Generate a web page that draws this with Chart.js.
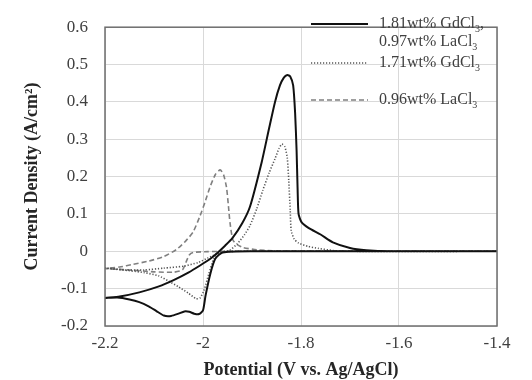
<!DOCTYPE html>
<html>
<head>
<meta charset="utf-8">
<script src="https://cdn.jsdelivr.net/npm/chart.js@4/dist/chart.umd.min.js"></script>
<style>
  body { margin: 0; background: #fff; }
  #wrap { width: 532px; height: 380px; }
</style>
</head>
<body>
<div id="wrap"><canvas id="cv"></canvas></div>
<script>
// --- data (potential in V, current density in A/cm2) ---
// 1.81wt% GdCl3 + 0.97wt% LaCl3 (solid), sweep -1.4 -> -2.2 -> -1.4
const mixV = [-1.40, -1.90, -1.96, -1.975, -1.985, -1.995, -2.0, -2.008, -2.018, -2.028, -2.038, -2.05, -2.065, -2.08, -2.095, -2.11, -2.13, -2.15, -2.175, -2.2,
              -2.17, -2.13, -2.09, -2.06, -2.03, -2.006, -1.985, -1.972, -1.955, -1.94, -1.92, -1.904, -1.88, -1.865, -1.853, -1.843, -1.835, -1.828, -1.822, -1.816, -1.812, -1.809, -1.807, -1.805, -1.799, -1.784, -1.76, -1.735, -1.70, -1.667, -1.62, -1.40];
const mixI = [0, 0, -0.003, -0.02, -0.06, -0.12, -0.158, -0.168, -0.167, -0.162, -0.161, -0.167, -0.173, -0.172, -0.16, -0.148, -0.136, -0.129, -0.124, -0.125,
              -0.121, -0.11, -0.094, -0.077, -0.057, -0.038, -0.02, -0.006, 0.015, 0.035, 0.075, 0.12, 0.24, 0.33, 0.40, 0.444, 0.465, 0.472, 0.468, 0.444, 0.37, 0.27, 0.17, 0.10, 0.078, 0.062, 0.045, 0.024, 0.009, 0.003, 0, 0];

// 1.71wt% GdCl3 (dotted)
const gdV = [-1.40, -1.93, -1.965, -1.978, -1.988, -1.998, -2.006, -2.014, -2.03, -2.05, -2.07, -2.09, -2.12, -2.15, -2.18, -2.2,
             -2.16, -2.12, -2.08, -2.04, -2.01, -1.99, -1.97, -1.955, -1.945, -1.93, -1.915, -1.904, -1.89, -1.878, -1.865, -1.853, -1.845, -1.839, -1.833, -1.828, -1.825, -1.822, -1.82, -1.814, -1.805, -1.785, -1.765, -1.735, -1.70, -1.40];
const gdI = [0, 0, -0.003, -0.02, -0.06, -0.105, -0.125, -0.127, -0.112, -0.095, -0.08, -0.066, -0.057, -0.052, -0.047, -0.045,
             -0.05, -0.05, -0.045, -0.04, -0.03, -0.018, -0.006, 0, 0.003, 0.02, 0.045, 0.069, 0.115, 0.163, 0.21, 0.248, 0.275, 0.287, 0.28, 0.25, 0.19, 0.11, 0.055, 0.033, 0.022, 0.013, 0.008, 0.002, 0, 0];

// 0.96wt% LaCl3 (dashed)
const laV = [-1.40, -1.95, -1.99, -2.02, -2.028, -2.035, -2.042, -2.06, -2.10, -2.15, -2.2,
             -2.17, -2.143, -2.11, -2.08, -2.054, -2.035, -2.02, -2.006, -1.995, -1.986, -1.975, -1.965, -1.958, -1.952, -1.948, -1.945, -1.939, -1.93, -1.918, -1.89, -1.85, -1.40];
const laI = [0, 0, -0.001, -0.003, -0.01, -0.03, -0.05, -0.056, -0.055, -0.05, -0.046,
             -0.042, -0.035, -0.026, -0.014, 0.005, 0.028, 0.052, 0.095, 0.135, 0.171, 0.205, 0.218, 0.205, 0.171, 0.12, 0.078, 0.03, 0.018, 0.01, 0.004, 0.001, 0];

const seriesNames = ['1.81wt% GdCl3, 0.97wt% LaCl3', '1.71wt% GdCl3', '0.96wt% LaCl3'];
const xTicks = [-2.2, -2.0, -1.8, -1.6, -1.4];
const yTicks = [-0.2, -0.1, 0, 0.1, 0.2, 0.3, 0.4, 0.5, 0.6];

// pair up the x and y arrays for the library
function zip(xs, ys) {
    return xs.map((x, i) => ({ x: x, y: ys[i] }));
}

const SERIF = '"Liberation Serif", "Times New Roman", serif';

// frame around the plot + hand drawn legend (with subscripts)
const framePlugin = {
    id: 'frame',
    afterDraw(chart) {
        const ctx = chart.ctx;
        const a = chart.chartArea;
        ctx.save();
        ctx.strokeStyle = '#6e6e6e';
        ctx.lineWidth = 1.5;
        ctx.strokeRect(a.left, a.top, a.right - a.left, a.bottom - a.top);

        // legend
        const sx1 = 311, sx2 = 368, tx = 379;
        const rows = [
            { y: 24, dash: [], color: '#111', w: 2, lines: [['1.81wt% GdCl', '3', ','], ['0.97wt% LaCl', '3', '']] },
            { y: 63, dash: [1.2, 1.8], color: '#555', w: 1.6, lines: [['1.71wt% GdCl', '3', '']] },
            { y: 100, dash: [5, 3], color: '#808080', w: 1.6, lines: [['0.96wt% LaCl', '3', '']] }
        ];
        rows.forEach(r => {
            ctx.beginPath();
            ctx.setLineDash(r.dash);
            ctx.strokeStyle = r.color;
            ctx.lineWidth = r.w;
            ctx.moveTo(sx1, r.y);
            ctx.lineTo(sx2, r.y);
            ctx.stroke();
            ctx.setLineDash([]);
            ctx.fillStyle = '#404040';
            ctx.textBaseline = 'middle';
            r.lines.forEach((ln, k) => {
                const y = r.y + k * 18;
                let x = tx;
                ctx.font = '16px ' + SERIF;
                ctx.fillText(ln[0], x, y);
                x += ctx.measureText(ln[0]).width;
                ctx.font = '10px ' + SERIF;
                ctx.fillText(ln[1], x, y + 5);
                x += ctx.measureText(ln[1]).width;
                ctx.font = '16px ' + SERIF;
                ctx.fillText(ln[2], x, y);
            });
        });
        ctx.restore();
    }
};

new Chart(document.getElementById('cv'), {
    type: 'line',
    data: {
        datasets: [
            { label: seriesNames[0], data: zip(mixV, mixI), borderColor: '#111', borderWidth: 2 },
            { label: seriesNames[1], data: zip(gdV, gdI), borderColor: '#555', borderWidth: 1.6, borderDash: [1.2, 1.8] },
            { label: seriesNames[2], data: zip(laV, laI), borderColor: '#808080', borderWidth: 1.6, borderDash: [5, 3] }
        ]
    },
    options: {
        responsive: true,
        maintainAspectRatio: false,
        animation: false,
        elements: { point: { radius: 0 }, line: { tension: 0.2, fill: false } },
        layout: { padding: { top: 13, right: 35, bottom: 0, left: 0 } },
        plugins: { legend: { display: false }, tooltip: { enabled: false } },
        scales: {
            x: {
                type: 'linear',
                min: -2.2, max: -1.4,
                afterBuildTicks: s => { s.ticks = xTicks.map(v => ({ value: v })); },
                afterFit: s => { s.height = 54; },
                grid: { color: '#d9d9d9', lineWidth: 1, drawTicks: false },
                border: { display: false },
                ticks: {
                    padding: 7,
                    color: '#404040',
                    font: { family: SERIF, size: 17 },
                    callback: v => String(Number(v.toFixed(1)))
                },
                title: {
                    display: true,
                    text: 'Potential (V vs. Ag/AgCl)',
                    color: '#262626',
                    font: { family: SERIF, size: 18, weight: 'bold' },
                    padding: { top: 0, bottom: -1 }
                }
            },
            y: {
                min: -0.2, max: 0.6,
                afterBuildTicks: s => { s.ticks = yTicks.map(v => ({ value: v })); },
                afterFit: s => { s.width = 105; },
                grid: { color: '#d9d9d9', lineWidth: 1, drawTicks: false },
                border: { display: false },
                ticks: {
                    padding: 17,
                    color: '#404040',
                    font: { family: SERIF, size: 17 },
                    callback: v => String(Number(v.toFixed(1)))
                },
                title: {
                    display: true,
                    text: 'Current Density (A/cm²)',
                    color: '#262626',
                    font: { family: SERIF, size: 18, weight: 'bold' },
                    padding: { top: 22, bottom: 0 }
                }
            }
        }
    },
    plugins: [framePlugin]
});
</script>
</body>
</html>
